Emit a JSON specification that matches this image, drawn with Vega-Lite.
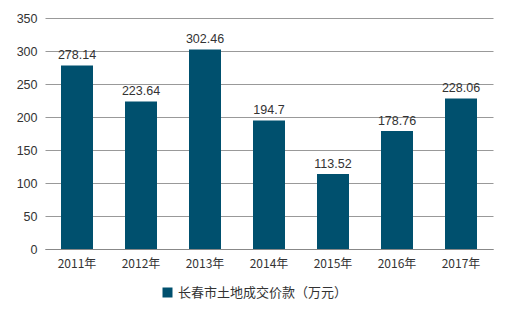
{
  "$schema": "https://vega.github.io/schema/vega-lite/v6.json",
  "width": 448,
  "height": 231,
  "autosize": {"type": "none"},
  "padding": {"left": 45, "top": 18, "right": 17, "bottom": 73},
  "background": "white",
  "data": {"values": [
    {"year": "2011年", "value": 278.14, "series": "长春市土地成交价款（万元）"},
    {"year": "2012年", "value": 223.64, "series": "长春市土地成交价款（万元）"},
    {"year": "2013年", "value": 302.46, "series": "长春市土地成交价款（万元）"},
    {"year": "2014年", "value": 194.7, "series": "长春市土地成交价款（万元）"},
    {"year": "2015年", "value": 113.52, "series": "长春市土地成交价款（万元）"},
    {"year": "2016年", "value": 178.76, "series": "长春市土地成交价款（万元）"},
    {"year": "2017年", "value": 228.06, "series": "长春市土地成交价款（万元）"}
  ]},
  "config": {
    "view": {"stroke": null},
    "font": "Liberation Sans",
    "axis": {"labelFont": "Noto Sans CJK SC", "labelFontSize": 12, "labelColor": "#333333", "title": null}
  },
  "encoding": {
    "x": {"field": "year", "type": "nominal", "sort": null,
      "scale": {"paddingInner": 0.5, "paddingOuter": 0.25},
      "axis": {"labelAngle": 0, "ticks": false, "domainColor": "#888888", "labelPadding": 9, "labelFontSize": 12}},
    "y": {"field": "value", "type": "quantitative",
      "scale": {"domain": [0, 350], "nice": false},
      "axis": {"values": [0, 50, 100, 150, 200, 250, 300, 350], "domain": false, "ticks": false, "gridColor": "#999999", "gridWidth": 1, "labelPadding": 8, "labelFont": "Liberation Sans", "labelFontSize": 12.5}}
  },
  "layer": [
    {"mark": {"type": "bar", "color": "#00506E"},
      "encoding": {"color": {"field": "series", "type": "nominal",
        "scale": {"range": ["#00506E"]},
        "legend": {"title": null, "orient": "none", "legendX": 116, "legendY": 268, "symbolType": "square", "symbolSize": 100, "labelLimit": 0, "labelFont": "Noto Sans CJK SC", "labelFontSize": 13, "labelColor": "#333333", "symbolStrokeWidth": 0}}}},
    {"mark": {"type": "text", "dy": -10, "fontSize": 12.5, "color": "#333333", "font": "Liberation Sans"},
      "encoding": {"text": {"field": "value", "type": "quantitative"}}}
  ]
}
